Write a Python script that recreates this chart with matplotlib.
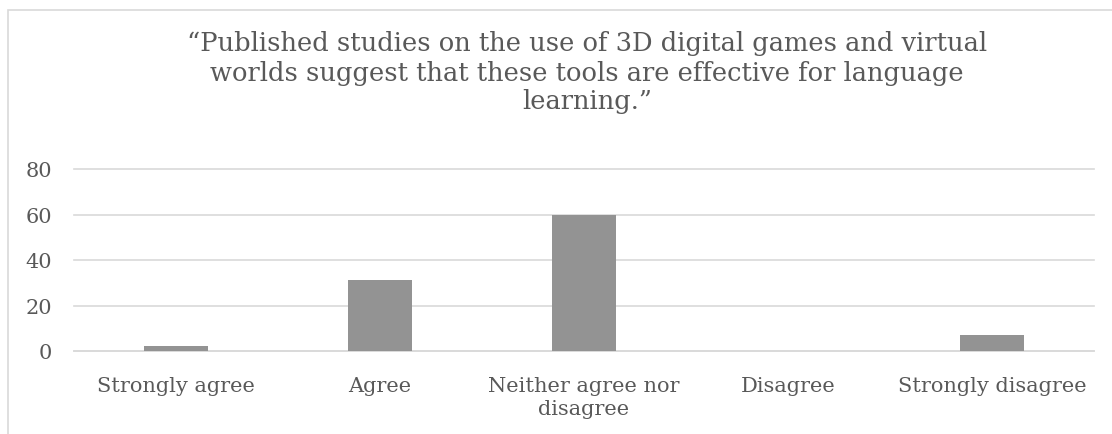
import matplotlib
matplotlib.use("Agg")
import matplotlib.pyplot as plt
from matplotlib.patches import Rectangle

categories = ["Strongly agree", "Agree", "Neither agree nor\ndisagree", "Disagree", "Strongly disagree"]
values = [2.3, 31, 60, 0, 7]
yticks = [0, 20, 40, 60, 80]
title = ("\u201cPublished studies on the use of 3D digital games and virtual\n"
         "worlds suggest that these tools are effective for language\n"
         "learning.\u201d")

W, H = 1112, 435
fig = plt.figure(figsize=(W / 100, H / 100), dpi=100)
plt.rcParams['font.family'] = ['DejaVu Serif']
txt = '#595959'

# chart frame
fig.patches.append(Rectangle((8 / W, -0.1), 1.2, (H - 11) / H + 0.1, transform=fig.transFigure,
                             fill=False, edgecolor='#d9d9d9', linewidth=1.2))

ax = fig.add_axes([74 / W, 83 / H, (1094 - 74) / W, (352 - 170) / H])
x = list(range(len(categories)))
ax.bar(x, values, width=0.31, color='#939393', zorder=3)
ax.set_xlim(-0.5, len(categories) - 0.5)
ax.set_ylim(0, 80)
ax.set_yticks(yticks)
ax.set_yticklabels([str(v) for v in yticks], fontsize=15, color=txt)
ax.set_xticks(x)
ax.set_xticklabels(categories, fontsize=15, color=txt, linespacing=1.3)
ax.tick_params(axis='both', length=0)
ax.tick_params(axis='y', pad=16)
ax.tick_params(axis='x', pad=18)
ax.grid(axis='y', color='#d9d9d9', linewidth=1.2, zorder=0)
for gl in ax.get_ygridlines():
    gl.set_clip_on(False)
for s in ['top', 'right', 'left']:
    ax.spines[s].set_visible(False)
ax.spines['bottom'].set_color('#d9d9d9')
ax.spines['bottom'].set_linewidth(1.2)

fig.text(587 / W, 1 - 73 / H, title, ha='center', va='center', fontsize=18.5,
         color=txt, linespacing=1.2)

fig.savefig("out.png", dpi=100, facecolor='white')
